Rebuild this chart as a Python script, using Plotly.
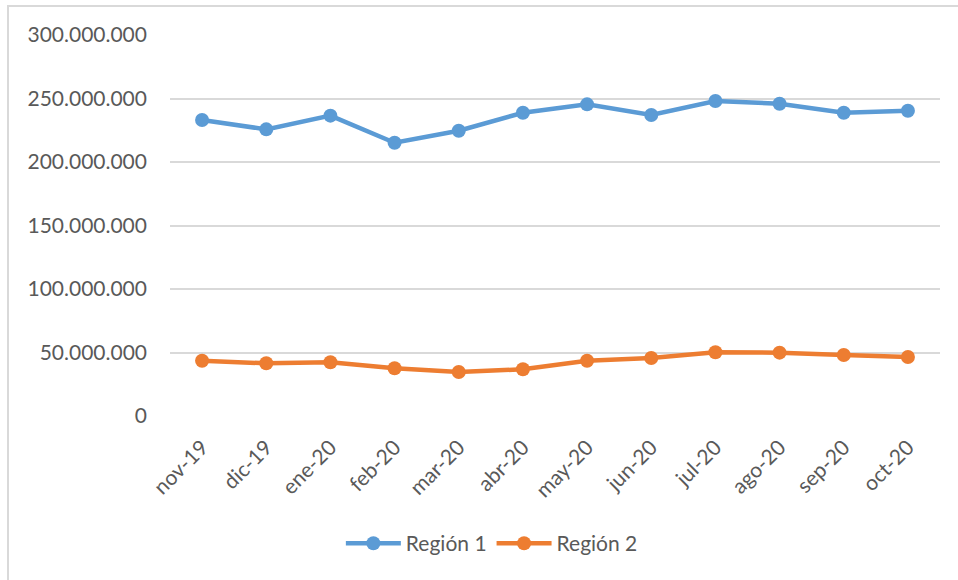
import plotly.graph_objects as go

months = ["nov-19", "dic-19", "ene-20", "feb-20", "mar-20", "abr-20",
          "may-20", "jun-20", "jul-20", "ago-20", "sep-20", "oct-20"]
region_1 = [233.1e6, 225.7e6, 236.5e6, 215.2e6, 224.6e6, 238.8e6,
            245.4e6, 237.0e6, 248.0e6, 245.9e6, 238.8e6, 240.4e6]
region_2 = [43.5e6, 41.5e6, 42.3e6, 37.6e6, 34.6e6, 36.8e6,
            43.5e6, 45.7e6, 50.2e6, 49.9e6, 48.0e6, 46.5e6]
y_ticks = [0, 50e6, 100e6, 150e6, 200e6, 250e6, 300e6]
y_tick_text = ["0", "50.000.000", "100.000.000", "150.000.000",
               "200.000.000", "250.000.000", "300.000.000"]

FONT = "Lato, 'Open Sans', sans-serif"
TEXT = "#595959"
SIZE = 21

fig = go.Figure()
fig.add_trace(go.Scatter(
    x=months, y=region_1, name="Región 1", mode="lines+markers",
    line=dict(color="#5B9BD5", width=4.5),
    marker=dict(size=14, color="#5B9BD5"),
))
fig.add_trace(go.Scatter(
    x=months, y=region_2, name="Región 2", mode="lines+markers",
    line=dict(color="#ED7D31", width=4.5),
    marker=dict(size=14, color="#ED7D31"),
))

fig.update_layout(
    width=958, height=580,
    margin=dict(l=170, r=18, t=35, b=164),
    paper_bgcolor="white", plot_bgcolor="white",
    font=dict(family=FONT, size=SIZE, color=TEXT),
    showlegend=True,
    legend=dict(orientation="h", x=0.418, xanchor="center", y=-0.335,
                yanchor="middle", font=dict(size=SIZE, color=TEXT),
                itemwidth=55, traceorder="normal"),
    xaxis=dict(type="category", range=[-0.5, 11.5], tickangle=-45,
               showgrid=False, zeroline=False, showline=False,
               ticks="", ticklabelstandoff=14,
               tickfont=dict(size=SIZE, color=TEXT)),
    yaxis=dict(range=[0, 300e6], tickvals=y_ticks, ticktext=y_tick_text,
               showgrid=True, gridcolor="#D9D9D9", gridwidth=1.5,
               zeroline=False, showline=False, ticks="",
               ticklabelstandoff=22, tickfont=dict(size=SIZE, color=TEXT)),
    shapes=[dict(type="rect", xref="paper", yref="paper",
                 x0=-0.2104, x1=1.2, y0=-0.6, y1=1.076,
                 line=dict(color="#D9D9D9", width=2), layer="below")],
)

fig.write_html("out.html")
